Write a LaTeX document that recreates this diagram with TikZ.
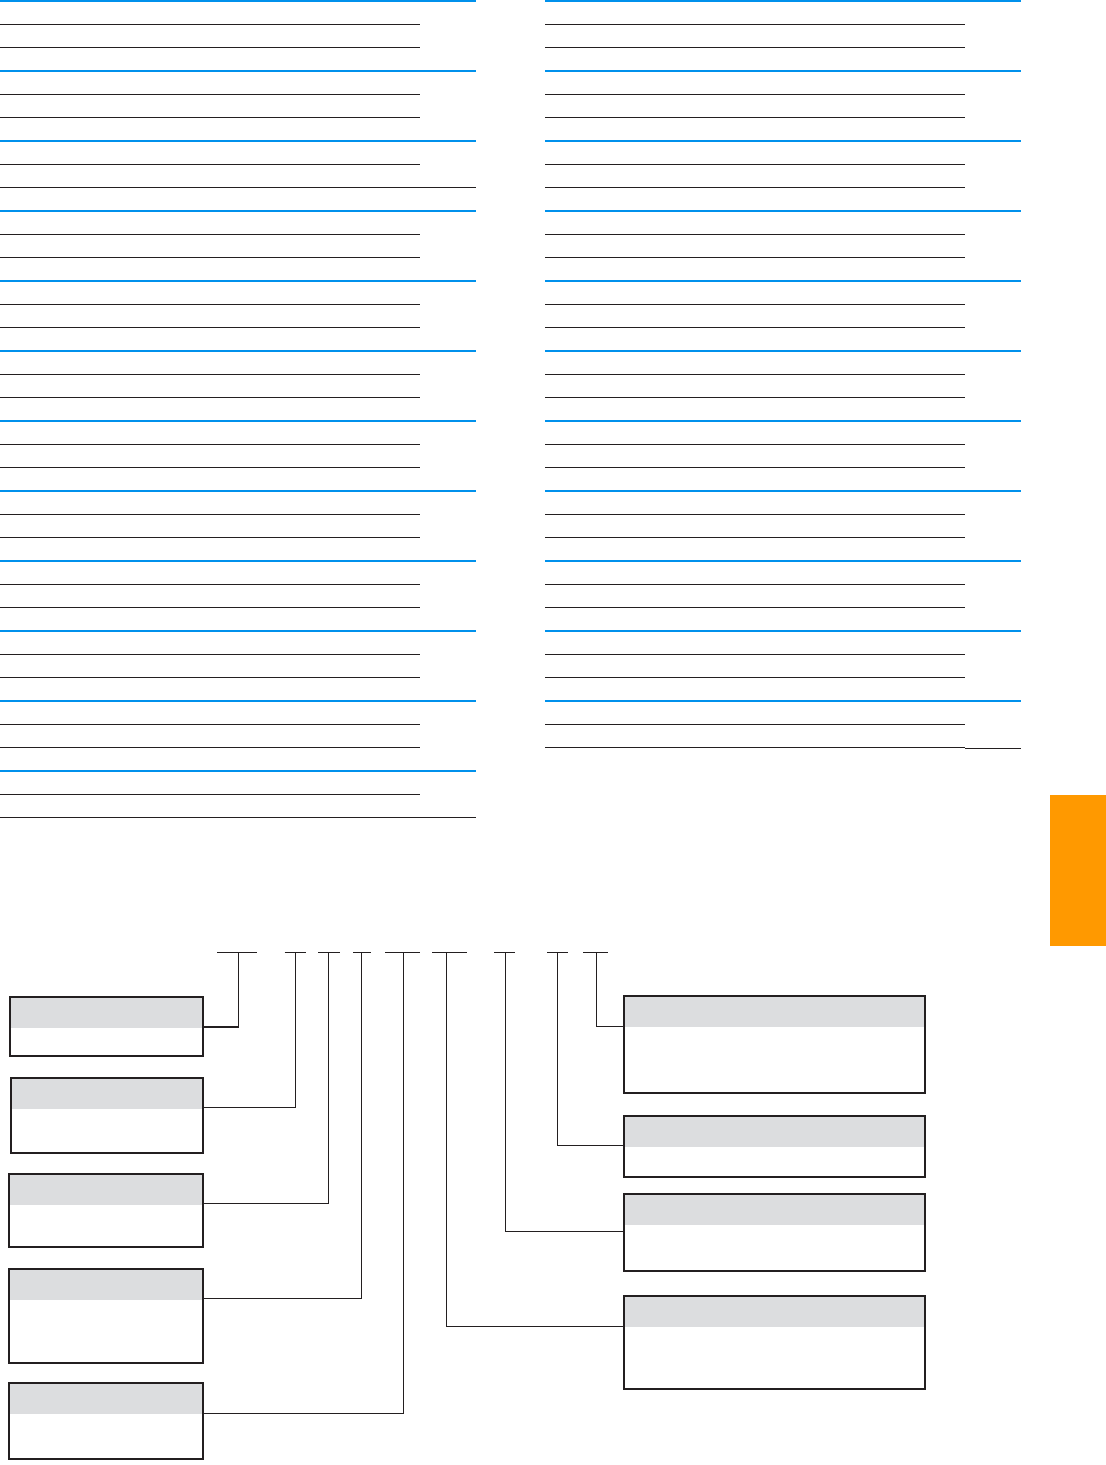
\documentclass[tikz,border=0pt]{standalone}
\usepackage{xcolor}
\usepackage{tikz}
\definecolor{ruleblue}{RGB}{0,145,236}
\definecolor{headgray}{RGB}{220,221,223}
\definecolor{taborange}{RGB}{255,153,0}
\definecolor{inkblack}{RGB}{35,31,32}

\begin{document}
\begin{tikzpicture}[x=1pt,y=-1pt,
    bluerule/.style={ruleblue,line width=2pt},
    thinrule/.style={inkblack,line width=1pt},
    link/.style={inkblack,line width=1pt},
    keybox/.style={draw=inkblack,line width=1.6pt,anchor=north west,inner sep=0pt,
        path picture={\fill[headgray] (path picture bounding box.north west)
            rectangle ([yshift=-31pt]path picture bounding box.north east);}}]
\useasboundingbox (0,0) rectangle (1106,1465);
% ruled table, left column
\foreach \k in {0,...,11} {
    \draw[bluerule] (0,{1+70*\k}) -- (476,{1+70*\k});
    \draw[thinrule] (0,{24.5+70*\k}) -- (420,{24.5+70*\k});
    \draw[thinrule] (0,{47.5+70*\k}) -- (420,{47.5+70*\k});
}
\draw[thinrule] (420,187.5) -- (476,187.5);
\draw[thinrule] (420,817.5) -- (476,817.5);
% ruled table, right column
\foreach \k in {0,...,10} {
    \draw[bluerule] (545,{1+70*\k}) -- (1021,{1+70*\k});
    \draw[thinrule] (545,{24.5+70*\k}) -- (965,{24.5+70*\k});
    \draw[thinrule] (545,{47.5+70*\k}) -- (965,{47.5+70*\k});
}
\draw[thinrule] (965,748.5) -- (1021,748.5);
\fill[taborange] (1050,795) rectangle (1106,946);
% code key
\foreach \n/\x/\a/\b in {tA/238.6/217/257,tB/295.5/284.5/306,tC/328/318/340,
    tD/361.5/353/371,tE/403.6/385/420,tF/446.5/432/467,tG/505.5/494/515,
    tH/557/547/568,tI/596.4/583/608} {
    \coordinate (\n) at (\x,952.5);
    \draw[link] (\a,952.5) -- (\b,952.5);
}
\node[keybox,minimum width=193pt,minimum height=59pt] (lA) at (9,996) {};
\node[keybox,minimum width=192pt,minimum height=75pt] (lB) at (10,1077) {};
\node[keybox,minimum width=194pt,minimum height=73pt] (lC) at (8,1173) {};
\node[keybox,minimum width=194pt,minimum height=94pt] (lD) at (8,1268) {};
\node[keybox,minimum width=194pt,minimum height=76pt] (lE) at (8,1382) {};
\node[keybox,minimum width=301pt,minimum height=97pt] (rA) at (623,995) {};
\node[keybox,minimum width=301pt,minimum height=61pt] (rB) at (623,1115) {};
\node[keybox,minimum width=301pt,minimum height=77pt] (rC) at (623,1193) {};
\node[keybox,minimum width=301pt,minimum height=93pt] (rD) at (623,1295) {};
\draw[link,line width=1.6pt] ([yshift=-31pt]lA.north east) -| (tA);
\draw[link] ([yshift=-30pt]lB.north east) -| (tB);
\draw[link] ([yshift=-30pt]lC.north east) -| (tC);
\draw[link] ([yshift=-30.5pt]lD.north east) -| (tD);
\draw[link] ([yshift=-31pt]lE.north east) -| (tE);
\draw[link] ([yshift=-31pt]rA.north west) -| (tI);
\draw[link] ([yshift=-30pt]rB.north west) -| (tH);
\draw[link] ([yshift=-38pt]rC.north west) -| (tG);
\draw[link] ([yshift=-31pt]rD.north west) -| (tF);
\end{tikzpicture}
\end{document}
